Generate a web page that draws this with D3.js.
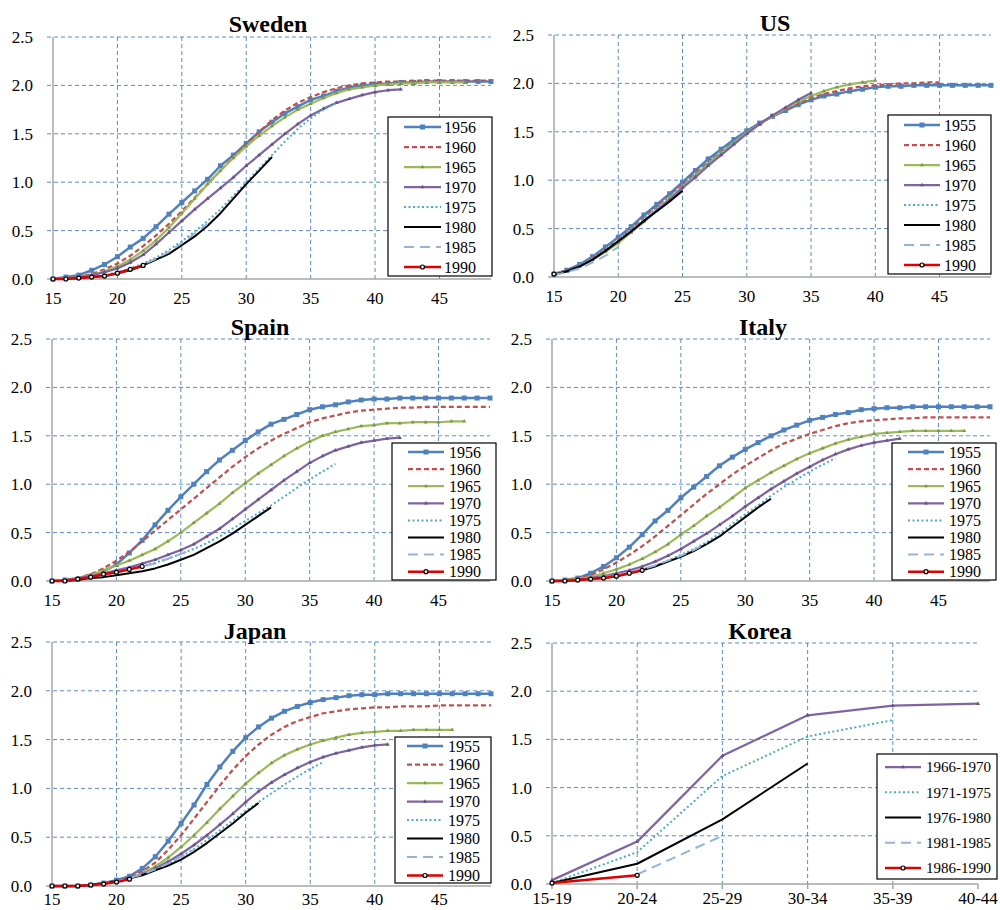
<!DOCTYPE html>
<html>
<head>
<meta charset="utf-8">
<script src="https://cdn.jsdelivr.net/npm/d3@7"></script>
<style>
  body { margin: 0; background: #fff; }
  svg { display: block; }
  svg text { font-family: "Liberation Serif", "Times New Roman", serif; }
</style>
</head>
<body>
<svg id="chart" width="1000" height="910"></svg>
<script>
// ---- Cumulative fertility by age, per birth cohort (each series starts at age 15) ----
const ages = d3.range(15, 50);
const ageTicks = [15, 20, 25, 30, 35, 40, 45];
const yTicks = [0, 0.5, 1.0, 1.5, 2.0, 2.5];

const cohorts56 = ["1956", "1960", "1965", "1970", "1975", "1980", "1985", "1990"];
const cohorts55 = ["1955", "1960", "1965", "1970", "1975", "1980", "1985", "1990"];

// Sweden
const swe1956 = [0.00,0.02,0.04,0.09,0.15,0.23,0.33,0.42,0.54,0.67,0.79,0.91,1.03,1.17,1.28,1.40,1.52,1.62,1.71,1.78,1.85,1.89,1.94,1.98,2.00,2.01,2.02,2.03,2.03,2.04,2.04,2.04,2.04,2.04,2.04];
const swe1960 = [0.00,0.01,0.02,0.05,0.10,0.16,0.24,0.34,0.45,0.57,0.70,0.84,0.98,1.12,1.26,1.39,1.52,1.64,1.74,1.82,1.88,1.93,1.97,2.00,2.02,2.03,2.04,2.04,2.05,2.05,2.05,2.05,2.05,2.05,2.05];
const swe1965 = [0.00,0.01,0.02,0.04,0.08,0.13,0.20,0.29,0.40,0.53,0.68,0.83,0.98,1.12,1.25,1.37,1.48,1.58,1.67,1.75,1.81,1.87,1.92,1.96,1.98,2.00,2.01,2.02,2.02,2.03,2.03,2.03,2.03];
const swe1970 = [0.00,0.01,0.02,0.04,0.07,0.11,0.17,0.25,0.36,0.48,0.60,0.72,0.83,0.94,1.05,1.17,1.28,1.39,1.50,1.60,1.69,1.76,1.82,1.86,1.90,1.93,1.95,1.96];
const swe1975 = [0.00,0.00,0.01,0.02,0.04,0.07,0.11,0.16,0.22,0.30,0.39,0.49,0.60,0.72,0.86,1.00,1.14,1.28,1.42,1.55,1.66,1.75,1.82];
const swe1980 = [0.00,0.00,0.01,0.02,0.03,0.06,0.09,0.14,0.20,0.26,0.35,0.44,0.55,0.68,0.83,0.98,1.12,1.26];
const swe1985 = [0.00,0.00,0.01,0.02,0.04,0.06,0.10,0.15,0.21,0.28,0.37,0.47,0.57];
const swe1990 = [0.00,0.00,0.01,0.02,0.03,0.06,0.10,0.14];

// US
const us1955 = [0.03,0.07,0.13,0.21,0.31,0.41,0.52,0.64,0.75,0.86,0.98,1.10,1.22,1.32,1.42,1.51,1.59,1.66,1.72,1.78,1.83,1.87,1.89,1.92,1.94,1.96,1.97,1.97,1.98,1.98,1.98,1.98,1.98,1.98,1.98];
const us1960 = [0.03,0.07,0.12,0.20,0.29,0.39,0.50,0.62,0.73,0.85,0.96,1.08,1.19,1.30,1.40,1.50,1.58,1.66,1.73,1.79,1.85,1.89,1.92,1.95,1.97,1.98,1.99,2.00,2.00,2.01,2.01];
const us1965 = [0.03,0.06,0.11,0.18,0.26,0.35,0.46,0.57,0.69,0.81,0.93,1.05,1.17,1.28,1.39,1.49,1.58,1.66,1.74,1.81,1.87,1.92,1.96,1.99,2.01,2.03];
const us1970 = [0.03,0.06,0.11,0.18,0.27,0.37,0.47,0.58,0.69,0.80,0.92,1.03,1.15,1.26,1.37,1.48,1.58,1.67,1.75,1.83,1.90];
const us1975 = [0.03,0.06,0.12,0.20,0.29,0.39,0.50,0.61,0.72,0.84,0.95,1.07,1.19,1.30,1.40,1.50];
const us1980 = [0.02,0.06,0.11,0.18,0.27,0.37,0.47,0.58,0.68,0.78,0.89];
const us1985 = [0.02,0.05,0.09,0.15,0.22,0.31];
const us1990 = [0.03];

// Spain
const esp1956 = [0.00,0.01,0.02,0.05,0.10,0.17,0.29,0.42,0.58,0.73,0.87,1.00,1.13,1.25,1.35,1.45,1.54,1.62,1.67,1.72,1.77,1.80,1.82,1.85,1.87,1.88,1.88,1.89,1.89,1.89,1.89,1.89,1.89,1.89,1.89];
const esp1960 = [0.00,0.01,0.03,0.07,0.13,0.21,0.30,0.41,0.52,0.63,0.74,0.85,0.96,1.07,1.18,1.28,1.37,1.45,1.52,1.58,1.64,1.68,1.71,1.74,1.76,1.77,1.78,1.79,1.79,1.80,1.80,1.80,1.80,1.80,1.80];
const esp1965 = [0.00,0.01,0.03,0.06,0.11,0.16,0.21,0.27,0.33,0.41,0.50,0.60,0.70,0.80,0.91,1.01,1.11,1.20,1.29,1.37,1.44,1.50,1.54,1.57,1.60,1.61,1.63,1.63,1.64,1.64,1.64,1.65,1.65];
const esp1970 = [0.00,0.01,0.03,0.05,0.08,0.11,0.14,0.18,0.22,0.27,0.32,0.38,0.46,0.54,0.64,0.74,0.84,0.94,1.04,1.13,1.22,1.29,1.35,1.39,1.43,1.45,1.47,1.48];
const esp1975 = [0.00,0.00,0.02,0.04,0.06,0.09,0.12,0.15,0.19,0.23,0.28,0.33,0.39,0.46,0.54,0.62,0.70,0.78,0.87,0.96,1.05,1.13,1.21];
const esp1980 = [0.00,0.00,0.01,0.03,0.04,0.06,0.08,0.10,0.13,0.17,0.22,0.27,0.34,0.41,0.49,0.58,0.67,0.76];
const esp1985 = [0.00,0.00,0.02,0.04,0.06,0.09,0.12,0.15,0.18,0.23,0.28,0.33];
const esp1990 = [0.00,0.00,0.02,0.04,0.07,0.09,0.12,0.15];

// Italy
const ita1955 = [0.00,0.01,0.03,0.08,0.15,0.24,0.35,0.48,0.62,0.73,0.86,0.97,1.08,1.19,1.28,1.36,1.43,1.50,1.56,1.61,1.66,1.69,1.72,1.74,1.77,1.78,1.79,1.79,1.80,1.80,1.80,1.80,1.80,1.80,1.80];
const ita1960 = [0.00,0.01,0.03,0.06,0.12,0.19,0.27,0.36,0.46,0.57,0.68,0.79,0.90,1.00,1.10,1.19,1.27,1.35,1.42,1.47,1.52,1.56,1.60,1.63,1.65,1.66,1.67,1.68,1.68,1.69,1.69,1.69,1.69,1.69,1.69];
const ita1965 = [0.00,0.01,0.02,0.04,0.08,0.12,0.17,0.23,0.30,0.38,0.48,0.57,0.67,0.76,0.86,0.96,1.04,1.12,1.19,1.26,1.32,1.37,1.42,1.46,1.49,1.52,1.53,1.54,1.55,1.55,1.55,1.55,1.55];
const ita1970 = [0.00,0.00,0.01,0.03,0.05,0.08,0.11,0.15,0.20,0.26,0.33,0.41,0.49,0.58,0.67,0.77,0.86,0.95,1.03,1.11,1.18,1.25,1.31,1.36,1.40,1.43,1.45,1.47];
const ita1975 = [0.00,0.00,0.01,0.02,0.04,0.06,0.09,0.12,0.16,0.21,0.27,0.33,0.40,0.49,0.59,0.69,0.78,0.88,0.97,1.05,1.13,1.20,1.27];
const ita1980 = [0.00,0.00,0.01,0.02,0.03,0.05,0.08,0.11,0.15,0.20,0.25,0.31,0.38,0.46,0.56,0.66,0.76,0.85];
const ita1985 = [0.00,0.00,0.01,0.02,0.04,0.06,0.09,0.12,0.16,0.21,0.26,0.32,0.39];
const ita1990 = [0.00,0.00,0.01,0.02,0.03,0.05,0.08,0.11];

// Japan
const jpn1955 = [0.00,0.00,0.00,0.01,0.03,0.06,0.10,0.18,0.30,0.46,0.64,0.83,1.04,1.22,1.38,1.52,1.63,1.72,1.79,1.84,1.88,1.91,1.93,1.95,1.96,1.96,1.97,1.97,1.97,1.97,1.97,1.97,1.97,1.97,1.97];
const jpn1960 = [0.00,0.00,0.00,0.01,0.03,0.05,0.09,0.15,0.24,0.37,0.52,0.69,0.86,1.03,1.19,1.33,1.45,1.55,1.63,1.69,1.73,1.77,1.79,1.81,1.82,1.83,1.83,1.84,1.84,1.84,1.85,1.85,1.85,1.85,1.85];
const jpn1965 = [0.00,0.00,0.00,0.01,0.03,0.05,0.08,0.13,0.20,0.29,0.40,0.52,0.65,0.79,0.92,1.05,1.16,1.26,1.34,1.40,1.45,1.49,1.52,1.55,1.57,1.58,1.59,1.59,1.60,1.60,1.60,1.60];
const jpn1970 = [0.00,0.00,0.00,0.01,0.03,0.05,0.08,0.12,0.18,0.25,0.33,0.42,0.52,0.63,0.74,0.86,0.97,1.06,1.14,1.21,1.27,1.32,1.36,1.39,1.42,1.44,1.45];
const jpn1975 = [0.00,0.00,0.00,0.01,0.03,0.05,0.08,0.12,0.17,0.23,0.30,0.38,0.47,0.57,0.67,0.77,0.86,0.95,1.04,1.12,1.20,1.27];
const jpn1980 = [0.00,0.00,0.00,0.01,0.03,0.05,0.08,0.11,0.16,0.21,0.27,0.35,0.44,0.54,0.64,0.75,0.85];
const jpn1985 = [0.00,0.00,0.00,0.01,0.03,0.05,0.08,0.12,0.17,0.23,0.30,0.37];
const jpn1990 = [0.00,0.00,0.00,0.01,0.02,0.04,0.07];

// Korea (five-year age groups and cohorts)
const korAgeGroups = ["15-19", "20-24", "25-29", "30-34", "35-39", "40-44"];
const korCohorts = ["1966-1970", "1971-1975", "1976-1980", "1981-1985", "1986-1990"];
const kor6670 = [0.04, 0.44, 1.33, 1.75, 1.85, 1.87];
const kor7175 = [0.01, 0.33, 1.12, 1.53, 1.70];
const kor7680 = [0.01, 0.21, 0.67, 1.25];
const kor8185 = [null, 0.10, 0.50];
const kor8690 = [0.01, 0.09];

// ---- Series styling ----
const cohortStyles = [
  { color: "#4F81BD", width: 2.5, dash: null,     marker: "square" },
  { color: "#C0504D", width: 2.25, dash: "5,3",   marker: null },
  { color: "#9BBB59", width: 2.25, dash: null,    marker: "tiny" },
  { color: "#8064A2", width: 2.25, dash: null,    marker: "tiny" },
  { color: "#4BACC6", width: 2,   dash: "2,2.5",  marker: null },
  { color: "#000000", width: 2,   dash: null,     marker: null },
  { color: "#95B3D7", width: 2,   dash: "10,6",   marker: null },
  { color: "#E00000", width: 2.5, dash: null,     marker: "dot" }
];
const koreaStyles = [cohortStyles[3], cohortStyles[4], cohortStyles[5], cohortStyles[6], cohortStyles[7]];

const panels = [
  { title: "Sweden", labels: cohorts56, series: [swe1956, swe1960, swe1965, swe1970, swe1975, swe1980, swe1985, swe1990],
    box: { x0: 53, x1: 491, y0: 37, y1: 279 }, tx: 268, ty: 32, xl: 25,
    leg: { x: 388, y: 117, w: 104, h: 159, first: 127, step: 20, l0: 16, l1: 53, t: 56, font: 16 } },
  { title: "US", labels: cohorts55, series: [us1955, us1960, us1965, us1970, us1975, us1980, us1985, us1990],
    box: { x0: 554, x1: 991, y0: 35, y1: 277 }, tx: 775, ty: 31, xl: 25,
    leg: { x: 888, y: 115, w: 103, h: 159, first: 125, step: 20, l0: 16, l1: 52, t: 56, font: 16 } },
  { title: "Spain", labels: cohorts56, series: [esp1956, esp1960, esp1965, esp1970, esp1975, esp1980, esp1985, esp1990],
    box: { x0: 52, x1: 490, y0: 339, y1: 581 }, tx: 260, ty: 335, xl: 25,
    leg: { x: 392, y: 443, w: 104, h: 137, first: 452, step: 17.1, l0: 16, l1: 52, t: 57, font: 16 } },
  { title: "Italy", labels: cohorts55, series: [ita1955, ita1960, ita1965, ita1970, ita1975, ita1980, ita1985, ita1990],
    box: { x0: 552, x1: 990, y0: 339, y1: 581 }, tx: 763, ty: 335, xl: 25,
    leg: { x: 892, y: 443, w: 104, h: 137, first: 452, step: 17.1, l0: 16, l1: 52, t: 57, font: 16 } },
  { title: "Japan", labels: cohorts55, series: [jpn1955, jpn1960, jpn1965, jpn1970, jpn1975, jpn1980, jpn1985, jpn1990],
    box: { x0: 52, x1: 491, y0: 642, y1: 886 }, tx: 255, ty: 639, xl: 19,
    leg: { x: 395, y: 737, w: 96, h: 146, first: 746, step: 18.5, l0: 12, l1: 48, t: 53, font: 16 } },
  { title: "Korea", labels: korCohorts, series: [kor6670, kor7175, kor7680, kor8185, kor8690], categorical: true,
    box: { x0: 552, x1: 978, y0: 643, y1: 884 }, tx: 760, ty: 639, xl: 20,
    leg: { x: 877, y: 754, w: 120, h: 125, first: 767, step: 25.25, l0: 8, l1: 44, t: 49, font: 15 } }
];

const svg = d3.select("#chart");
const serif = "'Liberation Serif', 'Times New Roman', serif";
const gridColor = "#5B8CC8";
const axisColor = "#A6A6A6";

function drawMarker(g, kind, color, cx, cy) {
  if (kind === "square") {
    g.append("rect").attr("x", cx - 2.5).attr("y", cy - 2.5).attr("width", 5).attr("height", 5)
      .attr("fill", color);
  } else if (kind === "tiny") {
    g.append("path").attr("transform", `translate(${cx},${cy})`)
      .attr("d", d3.symbol(d3.symbolTriangle, 7)())
      .attr("fill", d3.color(color).darker(0.6));
  } else if (kind === "dot") {
    g.append("circle").attr("cx", cx).attr("cy", cy).attr("r", 2)
      .attr("fill", "#e8e8e8").attr("stroke", "#000").attr("stroke-width", 1.2);
  }
}

panels.forEach(p => {
  const b = p.box;
  const g = svg.append("g").attr("font-family", serif);
  const x = p.categorical
    ? d3.scalePoint().domain(korAgeGroups).range([b.x0, b.x1])
    : d3.scaleLinear().domain([15, 49]).range([b.x0, b.x1]);
  const xTicks = p.categorical ? korAgeGroups : ageTicks;
  const y = d3.scaleLinear().domain([0, 2.5]).range([b.y1, b.y0]);
  const styles = p.categorical ? koreaStyles : cohortStyles;

  // horizontal gridlines (dashed), extending a little past the axis as tick marks
  g.append("g").selectAll("line").data(yTicks.filter(v => v > 0)).join("line")
    .attr("x1", b.x0 - 6).attr("x2", b.x1)
    .attr("y1", d => y(d)).attr("y2", d => y(d))
    .attr("stroke", gridColor).attr("stroke-width", 1).attr("stroke-dasharray", "4,3");

  // vertical gridlines
  const vTicks = p.categorical ? xTicks.slice(1, -1) : xTicks.slice(1);
  g.append("g").selectAll("line").data(vTicks).join("line")
    .attr("x1", d => x(d)).attr("x2", d => x(d))
    .attr("y1", b.y0).attr("y2", b.y1)
    .attr("stroke", gridColor).attr("stroke-width", 1).attr("stroke-dasharray", "4,3");

  // axes
  g.append("line").attr("x1", b.x0).attr("x2", b.x0).attr("y1", b.y0).attr("y2", b.y1)
    .attr("stroke", axisColor).attr("stroke-width", 1.5);
  g.append("line").attr("x1", b.x0 - 6).attr("x2", b.x1).attr("y1", b.y1).attr("y2", b.y1)
    .attr("stroke", axisColor).attr("stroke-width", 1.5);
  if (p.categorical) {
    g.append("g").selectAll("line").data(xTicks).join("line")
      .attr("x1", d => x(d)).attr("x2", d => x(d))
      .attr("y1", b.y1).attr("y2", b.y1 + 5)
      .attr("stroke", axisColor).attr("stroke-width", 1.5);
  }

  // tick labels
  g.append("g").selectAll("text").data(yTicks).join("text")
    .attr("x", b.x0 - 20).attr("y", d => y(d)).attr("dy", "0.35em")
    .attr("text-anchor", "end").attr("font-size", 17).attr("font-family", serif).attr("fill", "#000")
    .text(d => d3.format(".1f")(d));
  g.append("g").selectAll("text").data(xTicks).join("text")
    .attr("x", d => x(d)).attr("y", b.y1 + p.xl)
    .attr("text-anchor", "middle").attr("font-size", 17).attr("font-family", serif).attr("fill", "#000")
    .text(d => d);

  // title
  g.append("text").attr("x", p.tx).attr("y", p.ty).attr("text-anchor", "middle")
    .attr("font-size", 24).attr("font-weight", "bold").attr("font-family", serif).text(p.title);

  // series
  p.series.forEach((vals, i) => {
    const st = styles[i];
    const pts = vals.map((v, k) => ({ k: p.categorical ? korAgeGroups[k] : ages[k], v }))
      .filter(d => d.v !== null);
    const line = d3.line().x(d => x(d.k)).y(d => y(d.v));
    const sg = g.append("g");
    if (pts.length > 1) {
      sg.append("path").datum(pts).attr("d", line)
        .attr("fill", "none").attr("stroke", st.color).attr("stroke-width", st.width)
        .attr("stroke-linejoin", "round")
        .attr("stroke-dasharray", st.dash);
    }
    if (st.marker) {
      pts.forEach(d => drawMarker(sg, st.marker, st.color, x(d.k), y(d.v)));
    }
  });

  // legend
  const L = p.leg;
  const lg = g.append("g");
  lg.append("rect").attr("x", L.x).attr("y", L.y).attr("width", L.w).attr("height", L.h)
    .attr("fill", "#fff").attr("stroke", "#000").attr("stroke-width", 1.2);
  p.labels.forEach((lab, i) => {
    const st = styles[i];
    const cy = L.first + i * L.step;
    lg.append("line").attr("x1", L.x + L.l0).attr("x2", L.x + L.l1).attr("y1", cy).attr("y2", cy)
      .attr("stroke", st.color).attr("stroke-width", st.width).attr("stroke-dasharray", st.dash);
    if (st.marker) drawMarker(lg, st.marker, st.color, L.x + (L.l0 + L.l1) / 2, cy);
    lg.append("text").attr("x", L.x + L.t).attr("y", cy).attr("dy", "0.35em")
      .attr("font-size", L.font).attr("font-family", serif).attr("fill", "#000").text(lab);
  });
});
</script>
</body>
</html>
